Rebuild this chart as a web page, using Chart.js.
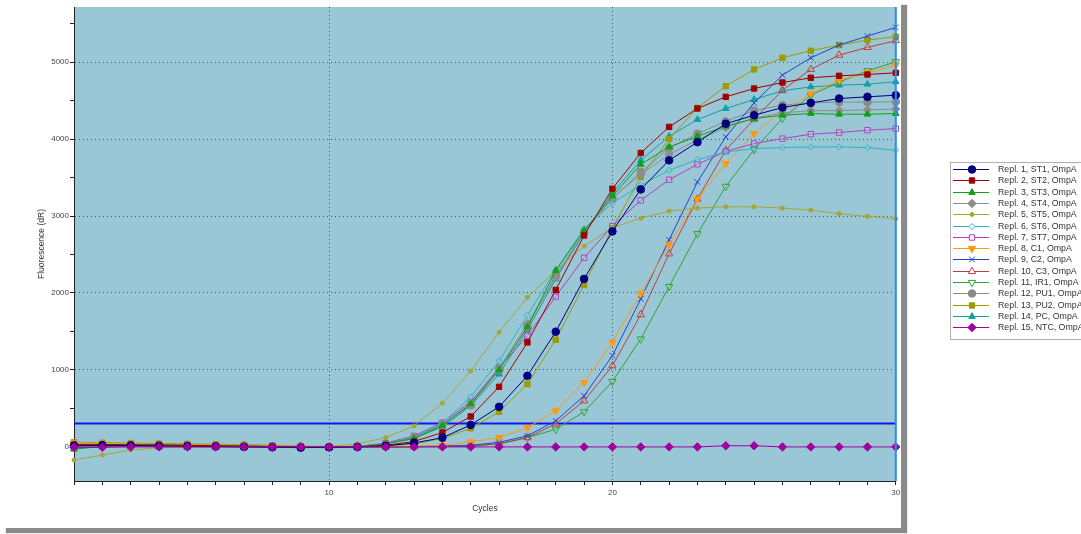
<!DOCTYPE html>
<html>
<head>
<meta charset="utf-8">
<script src="https://cdn.jsdelivr.net/npm/chart.js@4.4.1/dist/chart.umd.min.js"></script>
<style>
  body { margin:0; background:#fff; width:1081px; height:534px; overflow:hidden; position:relative;
         font-family:"Liberation Sans", Arial, sans-serif; }
  #frame { position:absolute; left:0; top:0; width:901px; height:528px; background:#fff;
           box-shadow: 6px 5px 1px #8a8a8a; }
  #legend { position:absolute; left:950px; top:162px; width:140px; height:176px;
            border:1px solid #b0b0b0; background:#fff; }
  .row { position:absolute; left:1px; height:12px; display:flex; align-items:center; }
  .row canvas { display:block; }
  .row span { font-size:8.8px; color:#333; margin-left:8px; white-space:nowrap; }
</style>
</head>
<body>
<div id="frame"><canvas id="chart" width="901" height="528"></canvas></div>
<div id="legend"></div>
<script>
// amplification data, fluorescence (dR) per cycle
const cycles = [1,2,3,4,5,6,7,8,9,10,11,12,13,14,15,16,17,18,19,20,21,22,23,24,25,26,27,28,29,30];
const threshold = 308;

const seriesLabels = [
  "Repl. 1, ST1, OmpA", "Repl. 2, ST2, OmpA", "Repl. 3, ST3, OmpA", "Repl. 4, ST4, OmpA",
  "Repl. 5, ST5, OmpA", "Repl. 6, ST6, OmpA", "Repl. 7, ST7, OmpA", "Repl. 8, C1, OmpA",
  "Repl. 9, C2, OmpA", "Repl. 10, C3, OmpA", "Repl. 11, IR1, OmpA", "Repl. 12, PU1, OmpA",
  "Repl. 13, PU2, OmpA", "Repl. 14, PC, OmpA", "Repl. 15, NTC, OmpA"
];

const st1 = [15,20,18,12,8,5,0,-5,-10,-5,0,15,50,120,286,521,924,1497,2183,2800,3346,3724,3960,4200,4310,4410,4470,4527,4549,4570];
const st2 = [30,30,28,25,20,15,10,5,0,-5,0,20,70,187,395,781,1358,2040,2747,3355,3819,4158,4397,4549,4657,4735,4796,4822,4839,4861];
const st3 = [-30,10,20,25,20,15,10,5,0,-5,5,40,110,280,560,1000,1560,2292,2810,3260,3672,3897,4036,4167,4267,4310,4332,4323,4323,4332];
const st4 = [20,25,25,22,18,15,10,5,0,-5,5,40,120,290,560,1020,1600,2200,2790,3240,3540,3800,3990,4150,4270,4340,4370,4370,4380,4390];
const st5 = [-170,-105,-40,-10,-5,-5,0,0,0,5,40,121,273,569,985,1488,1944,2292,2608,2847,2972,3064,3103,3120,3120,3103,3076,3030,2995,2965];
const st6 = [10,15,18,15,12,10,8,5,0,-5,5,45,130,310,650,1115,1710,2300,2834,3168,3400,3594,3733,3832,3876,3889,3898,3898,3889,3854];
const st7 = [5,10,12,10,8,5,3,0,-3,-5,5,50,143,316,586,1030,1445,1953,2457,2870,3203,3472,3672,3841,3941,4006,4063,4085,4115,4136];
const c1  = [50,45,40,35,30,25,20,10,5,0,0,0,10,20,65,121,250,469,837,1358,1996,2630,3220,3681,4071,4366,4592,4766,4860,4961];
const c2  = [10,10,10,8,5,5,3,0,-5,-10,-5,0,5,10,20,60,143,339,664,1185,1923,2691,3442,4028,4470,4831,5056,5221,5339,5451];
const c3  = [20,20,18,15,10,8,5,3,0,-5,-5,0,5,10,15,40,121,300,599,1055,1719,2509,3220,3854,4258,4635,4905,5091,5191,5278];
const ir1 = [0,5,5,5,3,0,0,-3,-5,-5,-5,-5,0,5,10,40,121,230,456,850,1402,2083,2769,3385,3863,4267,4570,4740,4887,5004];
const pu1 = [40,35,30,28,25,20,15,10,5,0,5,40,120,290,540,1000,1560,2230,2790,3225,3572,3880,4070,4230,4370,4440,4470,4480,4480,4484];
const pu2 = [60,55,50,45,40,35,30,20,10,5,5,10,40,110,242,456,816,1393,2105,2843,3507,4000,4405,4688,4905,5056,5148,5221,5286,5330];
const pc  = [-20,0,10,15,12,10,8,5,0,-5,5,40,110,260,534,946,1519,2183,2778,3299,3724,4036,4253,4397,4514,4627,4679,4700,4713,4744];
const ntc = [-5,-5,0,0,0,0,0,0,0,0,0,0,0,0,0,0,0,0,0,0,0,0,0,15,15,0,0,0,0,0];

const seriesValues = [st1, st2, st3, st4, st5, st6, st7, c1, c2, c3, ir1, pu1, pu2, pc, ntc];

const yTicks = [0,500,1000,1500,2000,2500,3000,3500,4000,4500,5000,5500];
const yLabels = [0,1000,2000,3000,4000,5000];
const xLabels = [10,20,30];

// marker look for each series
const styles = [
  { color:"#000080", point:"circle",   r:3.8, fill:true },
  { color:"#a00000", point:"rect",     r:3.8, fill:true },
  { color:"#12a012", point:"triangle", r:3.8, fill:true },
  { color:"#8e8e8e", point:"rectRot",  r:4.2, fill:true },
  { color:"#a6a633", point:"circle",   r:2,   fill:true },
  { color:"#2cb4c0", point:"rectRot",  r:3,   fill:false },
  { color:"#b040c0", point:"rect",     r:3.8, fill:false },
  { color:"#ff9a10", point:"triangle", r:4.2, fill:true, rot:180 },
  { color:"#2a40d0", point:"crossRot", r:4,   fill:false },
  { color:"#b84040", point:"triangle", r:4.2, fill:false },
  { color:"#2ea22e", point:"triangle", r:4.2, fill:false, rot:180 },
  { color:"#8a8a8a", point:"circle",   r:3.8, fill:true },
  { color:"#9c9c00", point:"rect",     r:3.8, fill:true },
  { color:"#10a0a0", point:"triangle", r:3.8, fill:true },
  { color:"#a000a0", point:"rectRot",  r:4.2, fill:true }
];

const plotBg = "#9ac7d6";
const gridCol = "#44555c";

const datasets = seriesValues.map((vals, i) => {
  const s = styles[i];
  return {
    label: seriesLabels[i],
    data: cycles.map((c, k) => ({ x: c, y: vals[k] })),
    borderColor: s.color,
    backgroundColor: s.fill ? s.color : "rgba(255,255,255,0.15)",
    borderWidth: 1,
    pointStyle: s.point,
    pointRadius: s.r,
    pointRotation: s.rot || 0,
    pointBorderWidth: 1,
    pointBorderColor: s.color,
    pointBackgroundColor: s.fill ? s.color : "rgba(255,255,255,0.15)",
    tension: 0,
    clip: 8,
    order: i === 14 ? -1 : 1
  };
});

const plotDecor = {
  id: "plotDecor",
  beforeDraw(chart) {
    const { ctx, chartArea: a } = chart;
    ctx.save();
    ctx.fillStyle = plotBg;
    ctx.fillRect(a.left, a.top, a.right - a.left, a.bottom - a.top);
    ctx.restore();
  },
  beforeDatasetsDraw(chart) {
    const { ctx, chartArea: a, scales } = chart;
    const ty = Math.round(scales.y.getPixelForValue(threshold)) + 0.5;
    ctx.save();
    ctx.strokeStyle = "#1414f0";
    ctx.lineWidth = 2;
    ctx.beginPath();
    ctx.moveTo(a.left, ty);
    ctx.lineTo(a.right, ty);
    ctx.stroke();
    ctx.restore();
  },
  afterDatasetsDraw(chart) {
    const { ctx, chartArea: a, scales } = chart;
    const rx = scales.x.getPixelForValue(cycles[cycles.length - 1]);
    ctx.save();
    ctx.strokeStyle = "#2a8ff0";
    ctx.lineWidth = 2;
    ctx.beginPath();
    ctx.moveTo(rx, a.top);
    ctx.lineTo(rx, a.bottom);
    ctx.stroke();
    ctx.restore();
  }
};

const tickFont = { family: "'Liberation Sans', Arial, sans-serif", size: 8 };

new Chart(document.getElementById("chart"), {
  type: "line",
  data: { datasets },
  plugins: [plotDecor],
  options: {
    responsive: false,
    animation: false,
    devicePixelRatio: 1,
    layout: { padding: { top: 7, right: 3, left: 0, bottom: 0 } },
    plugins: { legend: { display: false }, tooltip: { enabled: false } },
    scales: {
      x: {
        type: "linear",
        min: cycles[0],
        max: cycles[cycles.length - 1],
        afterBuildTicks: ax => { ax.ticks = cycles.map(v => ({ value: v })); },
        afterFit: ax => { ax.height = 47; ax.paddingLeft = 0; ax.paddingRight = 0; },
        ticks: {
          autoSkip: false, maxRotation: 0, padding: 3, color: "#444", font: tickFont,
          callback: v => xLabels.includes(v) ? String(v) : ""
        },
        grid: {
          color: c => (c.tick && (c.tick.value === 10 || c.tick.value === 20)) ? gridCol : "rgba(0,0,0,0)",
          tickColor: "#222", tickLength: 4, lineWidth: 1
        },
        border: { display: true, color: "#222", width: 1, dash: [1, 3] },
        title: {
          display: true, text: "Cycles", color: "#333",
          font: { family: "'Liberation Sans', Arial, sans-serif", size: 8.5 },
          padding: { top: 0, bottom: 14 }
        }
      },
      y: {
        type: "linear",
        min: -443,
        max: 5716,
        afterBuildTicks: ax => { ax.ticks = yTicks.map(v => ({ value: v })); },
        afterFit: ax => { ax.width = 74; },
        ticks: {
          padding: 1, color: "#444", font: tickFont,
          callback: v => yLabels.includes(v) ? String(v) : ""
        },
        grid: {
          color: c => (c.tick && c.tick.value > 0 && c.tick.value % 1000 === 0) ? gridCol : "rgba(0,0,0,0)",
          tickColor: "#222", tickLength: 4, lineWidth: 1
        },
        border: { display: true, color: "#222", width: 1, dash: [1, 3] },
        title: {
          display: true, text: "Fluorescence (dR)", color: "#333",
          font: { family: "'Liberation Sans', Arial, sans-serif", size: 8.5 },
          padding: { top: 37, bottom: 0 }
        }
      }
    }
  }
});

// legend with line + marker samples
const legendBox = document.getElementById("legend");
datasets.forEach((ds, i) => {
  const row = document.createElement("div");
  row.className = "row";
  row.style.top = (0 + i * 11.3) + "px";
  const cv = document.createElement("canvas");
  cv.width = 38; cv.height = 12;
  const g = cv.getContext("2d");
  g.strokeStyle = ds.borderColor;
  g.lineWidth = 1;
  g.beginPath(); g.moveTo(1, 6.5); g.lineTo(37, 6.5); g.stroke();
  g.fillStyle = ds.pointBackgroundColor === ds.borderColor ? ds.borderColor : "#fff";
  Chart.helpers.drawPoint(g, {
    pointStyle: ds.pointStyle, radius: ds.pointRadius, rotation: ds.pointRotation, borderWidth: 1
  }, 20, 6.5);
  const label = document.createElement("span");
  label.textContent = ds.label;
  row.appendChild(cv);
  row.appendChild(label);
  legendBox.appendChild(row);
});
</script>
</body>
</html>
